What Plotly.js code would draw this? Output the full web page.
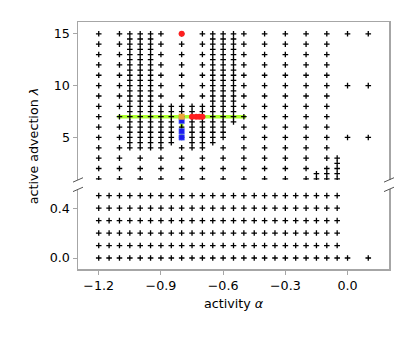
<!DOCTYPE html>
<html>
<head>
<meta charset="utf-8">
<script src="https://cdn.plot.ly/plotly-3.0.1.min.js"></script>
<style>html,body{margin:0;padding:0;background:#fff;}#chart{width:415px;height:338px;}</style>
</head>
<body>
<div id="chart"></div>
<script>
// ---------- data ----------
// upper panel: grid columns (activity alpha) and the lambda values sampled in each column
const topAlpha = [-1.2, -1.1, -1.05, -1.0, -0.95, -0.9, -0.85, -0.8, -0.75, -0.7, -0.65, -0.6, -0.55, -0.5, -0.4, -0.3, -0.2, -0.15, -0.1, -0.05, 0.0, 0.1];
const I15 = [1,2,3,4,5,6,7,8,9,10,11,12,13,14,15];
const H4to15 = [4,4.5,5,5.5,6,6.5,7,7.5,8,8.5,9,9.5,10,10.5,11,11.5,12,12.5,13,13.5,14,14.5,15];
const topLambda = [
  I15,
  I15,
  H4to15,
  [1,2,3,4,4.5,5,5.5,6,6.5,7,7.5,8,8.5,9,9.5,10,10.5,11,11.5,12,12.5,13,13.5,14,14.5,15],
  H4to15,
  [1,2,3,4,4.5,5,5.5,6,6.5,7,7.5,8,9,10,11,12,13,14,15],
  [4.5,5,5.5,6,6.5,7,7.5,8],
  [1,2,3,4,5,6,7,7.5,8,9,10,11,12,13,14,15],
  [4,4.5,5,5.5,6,6.5,7,7.5,8],
  [1,2,3,4,4.5,5,5.5,6,6.5,7,7.5,8,9,10,11,12,13,14,15],
  [4.5,5,5.5,6,6.5,7,7.5,8,8.5,9,9.5,10,10.5,11,11.5,12,12.5,13,13.5,14,14.5,15],
  [1,2,3,4,5,5.5,6,6.5,7,7.5,8,8.5,9,9.5,10,10.5,11,11.5,12,12.5,13,13.5,14,14.5,15],
  [6.5,7,7.5,8,8.5,9,9.5,10,10.5,11,11.5,12,12.5,13,13.5,14,14.5,15],
  I15,
  I15,
  I15,
  I15,
  [1,1.5],
  [1,1.5,2,3,4,5,6,7,8,9,10,11,12,13,14,15],
  [1,1.5,2,2.5,3],
  [5,10,15],
  [5,10,15]
];
// lower panel: grid columns and rows
const lowAlpha = [-1.2,-1.15,-1.1,-1.05,-1.0,-0.95,-0.9,-0.85,-0.8,-0.75,-0.7,-0.65,-0.6,-0.55,-0.5,-0.45,-0.4,-0.35,-0.3,-0.25,-0.2,-0.15,-0.1,-0.05];
const lowLambda = [0, 0.1, 0.2, 0.3, 0.4, 0.5];
const lowExtraAlpha = [0.0, 0.1];
const lowExtraLambda = [0, 0];
// highlighted states
const greenAlpha = [-1.11, -0.49];
const greenLambda = [7, 7];
const greenVAlpha = [-0.8, -0.8];
const greenVLambda = [7, 5.0];
const redAlpha = [-0.8, -0.75, -0.73, -0.715, -0.70];
const redLambda = [15, 7, 7, 7, 7];
const blueAlpha = [-0.8, -0.8, -0.8];
const blueLambda = [6.6, 5.6, 5.0];
const orangeAlpha = [-0.8];
const orangeLambda = [7];
// ticks
const xTickVals = [-1.2, -0.9, -0.6, -0.3, 0.0];
const xTickText = ['\u22121.2', '\u22120.9', '\u22120.6', '\u22120.3', '0.0'];
const yTopTickVals = [5, 10, 15];
const yTopTickText = ['5', '10', '15'];
const yLowTickVals = [0, 0.4];
const yLowTickText = ['0.0', '0.4'];

// ---------- build ----------
const tx = [], ty = [];
topAlpha.forEach((a, i) => topLambda[i].forEach(l => { tx.push(a); ty.push(l); }));
const bx = [], by = [];
lowAlpha.forEach(a => lowLambda.forEach(l => { bx.push(a); by.push(l); }));
lowExtraAlpha.forEach((a, i) => { bx.push(a); by.push(lowExtraLambda[i]); });

const plusMarker = {symbol: 'cross-thin', size: 4, color: '#000', line: {width: 1.3, color: '#000'}};
const GREEN = '#adff2f';
const traces = [
  {x: greenAlpha, y: greenLambda, xaxis: 'x2', yaxis: 'y2', mode: 'lines', line: {color: GREEN, width: 3.5}, hoverinfo: 'skip'},
  {x: greenVAlpha, y: greenVLambda, xaxis: 'x2', yaxis: 'y2', mode: 'lines', line: {color: GREEN, width: 3.5}, hoverinfo: 'skip'},
  {x: tx, y: ty, xaxis: 'x2', yaxis: 'y2', mode: 'markers', marker: plusMarker},
  {x: bx, y: by, xaxis: 'x', yaxis: 'y', mode: 'markers', marker: plusMarker},
  {x: blueAlpha, y: blueLambda, xaxis: 'x2', yaxis: 'y2', mode: 'markers', marker: {symbol: 'square', size: 5.5, color: '#1c1cf0', line: {width: 0.8, color: 'rgba(100,120,255,0.7)'}}},
  {x: orangeAlpha, y: orangeLambda, xaxis: 'x2', yaxis: 'y2', mode: 'markers', marker: {symbol: 'square', size: 6, color: '#eca33a', line: {width: 0}}},
  {x: redAlpha, y: redLambda, xaxis: 'x2', yaxis: 'y2', mode: 'markers', marker: {symbol: 'circle', size: 6, color: '#ff1f1f', line: {width: 0}}}
];

const SPINE = '#a6a6a6';
const FONT = {family: 'DejaVu Sans, sans-serif', size: 12.7, color: '#000'};
const W = 415, H = 338;
const L = 77.7, R = 25.7, T = 21.7, B = 68.7;
const plotH = H - T - B;
const lowTopPx = 189.5, topBotPx = 180;
const lowDomTop = (H - B - lowTopPx) / plotH;
const topDomBot = (H - B - topBotPx) / plotH;

function brk(xp, yp) {
  return {type: 'line', xref: 'paper', yref: 'paper', xsizemode: 'pixel', ysizemode: 'pixel',
    xanchor: xp, yanchor: yp, x0: -5, x1: 5, y0: -2.2, y1: 2.2, line: {color: '#555', width: 1}};
}
const shapes = [
  brk(0, topDomBot), brk(0, lowDomTop), brk(1, topDomBot), brk(1, lowDomTop)
];

const axisCommon = {showgrid: false, zeroline: false, showline: true, linecolor: SPINE, linewidth: 1.5,
  ticks: 'outside', ticklen: 4, tickwidth: 1, tickcolor: SPINE, tickfont: FONT};

const layout = {
  width: W, height: H,
  margin: {l: L, r: R, t: T, b: B, pad: 0},
  paper_bgcolor: '#fff', plot_bgcolor: '#fff',
  showlegend: false,
  font: FONT,
  xaxis: Object.assign({}, axisCommon, {range: [-1.3, 0.2], anchor: 'y', tickmode: 'array', tickvals: xTickVals, ticktext: xTickText,
    title: {text: 'activity <i>α</i>', font: FONT, standoff: 7}}),
  xaxis2: {matches: 'x', range: [-1.3, 0.2], anchor: 'y2', side: 'top', showline: true, linecolor: SPINE, linewidth: 1.5,
    showticklabels: false, ticks: '', showgrid: false, zeroline: false},
  yaxis: Object.assign({}, axisCommon, {domain: [0, lowDomTop], range: [-0.088, 0.55], anchor: 'x', mirror: true,
    tickmode: 'array', tickvals: yLowTickVals, ticktext: yLowTickText}),
  yaxis2: Object.assign({}, axisCommon, {domain: [topDomBot, 1], range: [0.9, 16.14], anchor: 'x2', mirror: true,
    tickmode: 'array', tickvals: yTopTickVals, ticktext: yTopTickText}),
  shapes: shapes,
  annotations: [
    {text: 'active advection <i>λ</i>', xref: 'paper', yref: 'paper', x: -0.142, y: 0.5, xanchor: 'center', yanchor: 'middle',
     textangle: -90, showarrow: false, font: FONT}
  ]
};

Plotly.newPlot('chart', traces, layout, {staticPlot: true, displayModeBar: false});
</script>
</body>
</html>
